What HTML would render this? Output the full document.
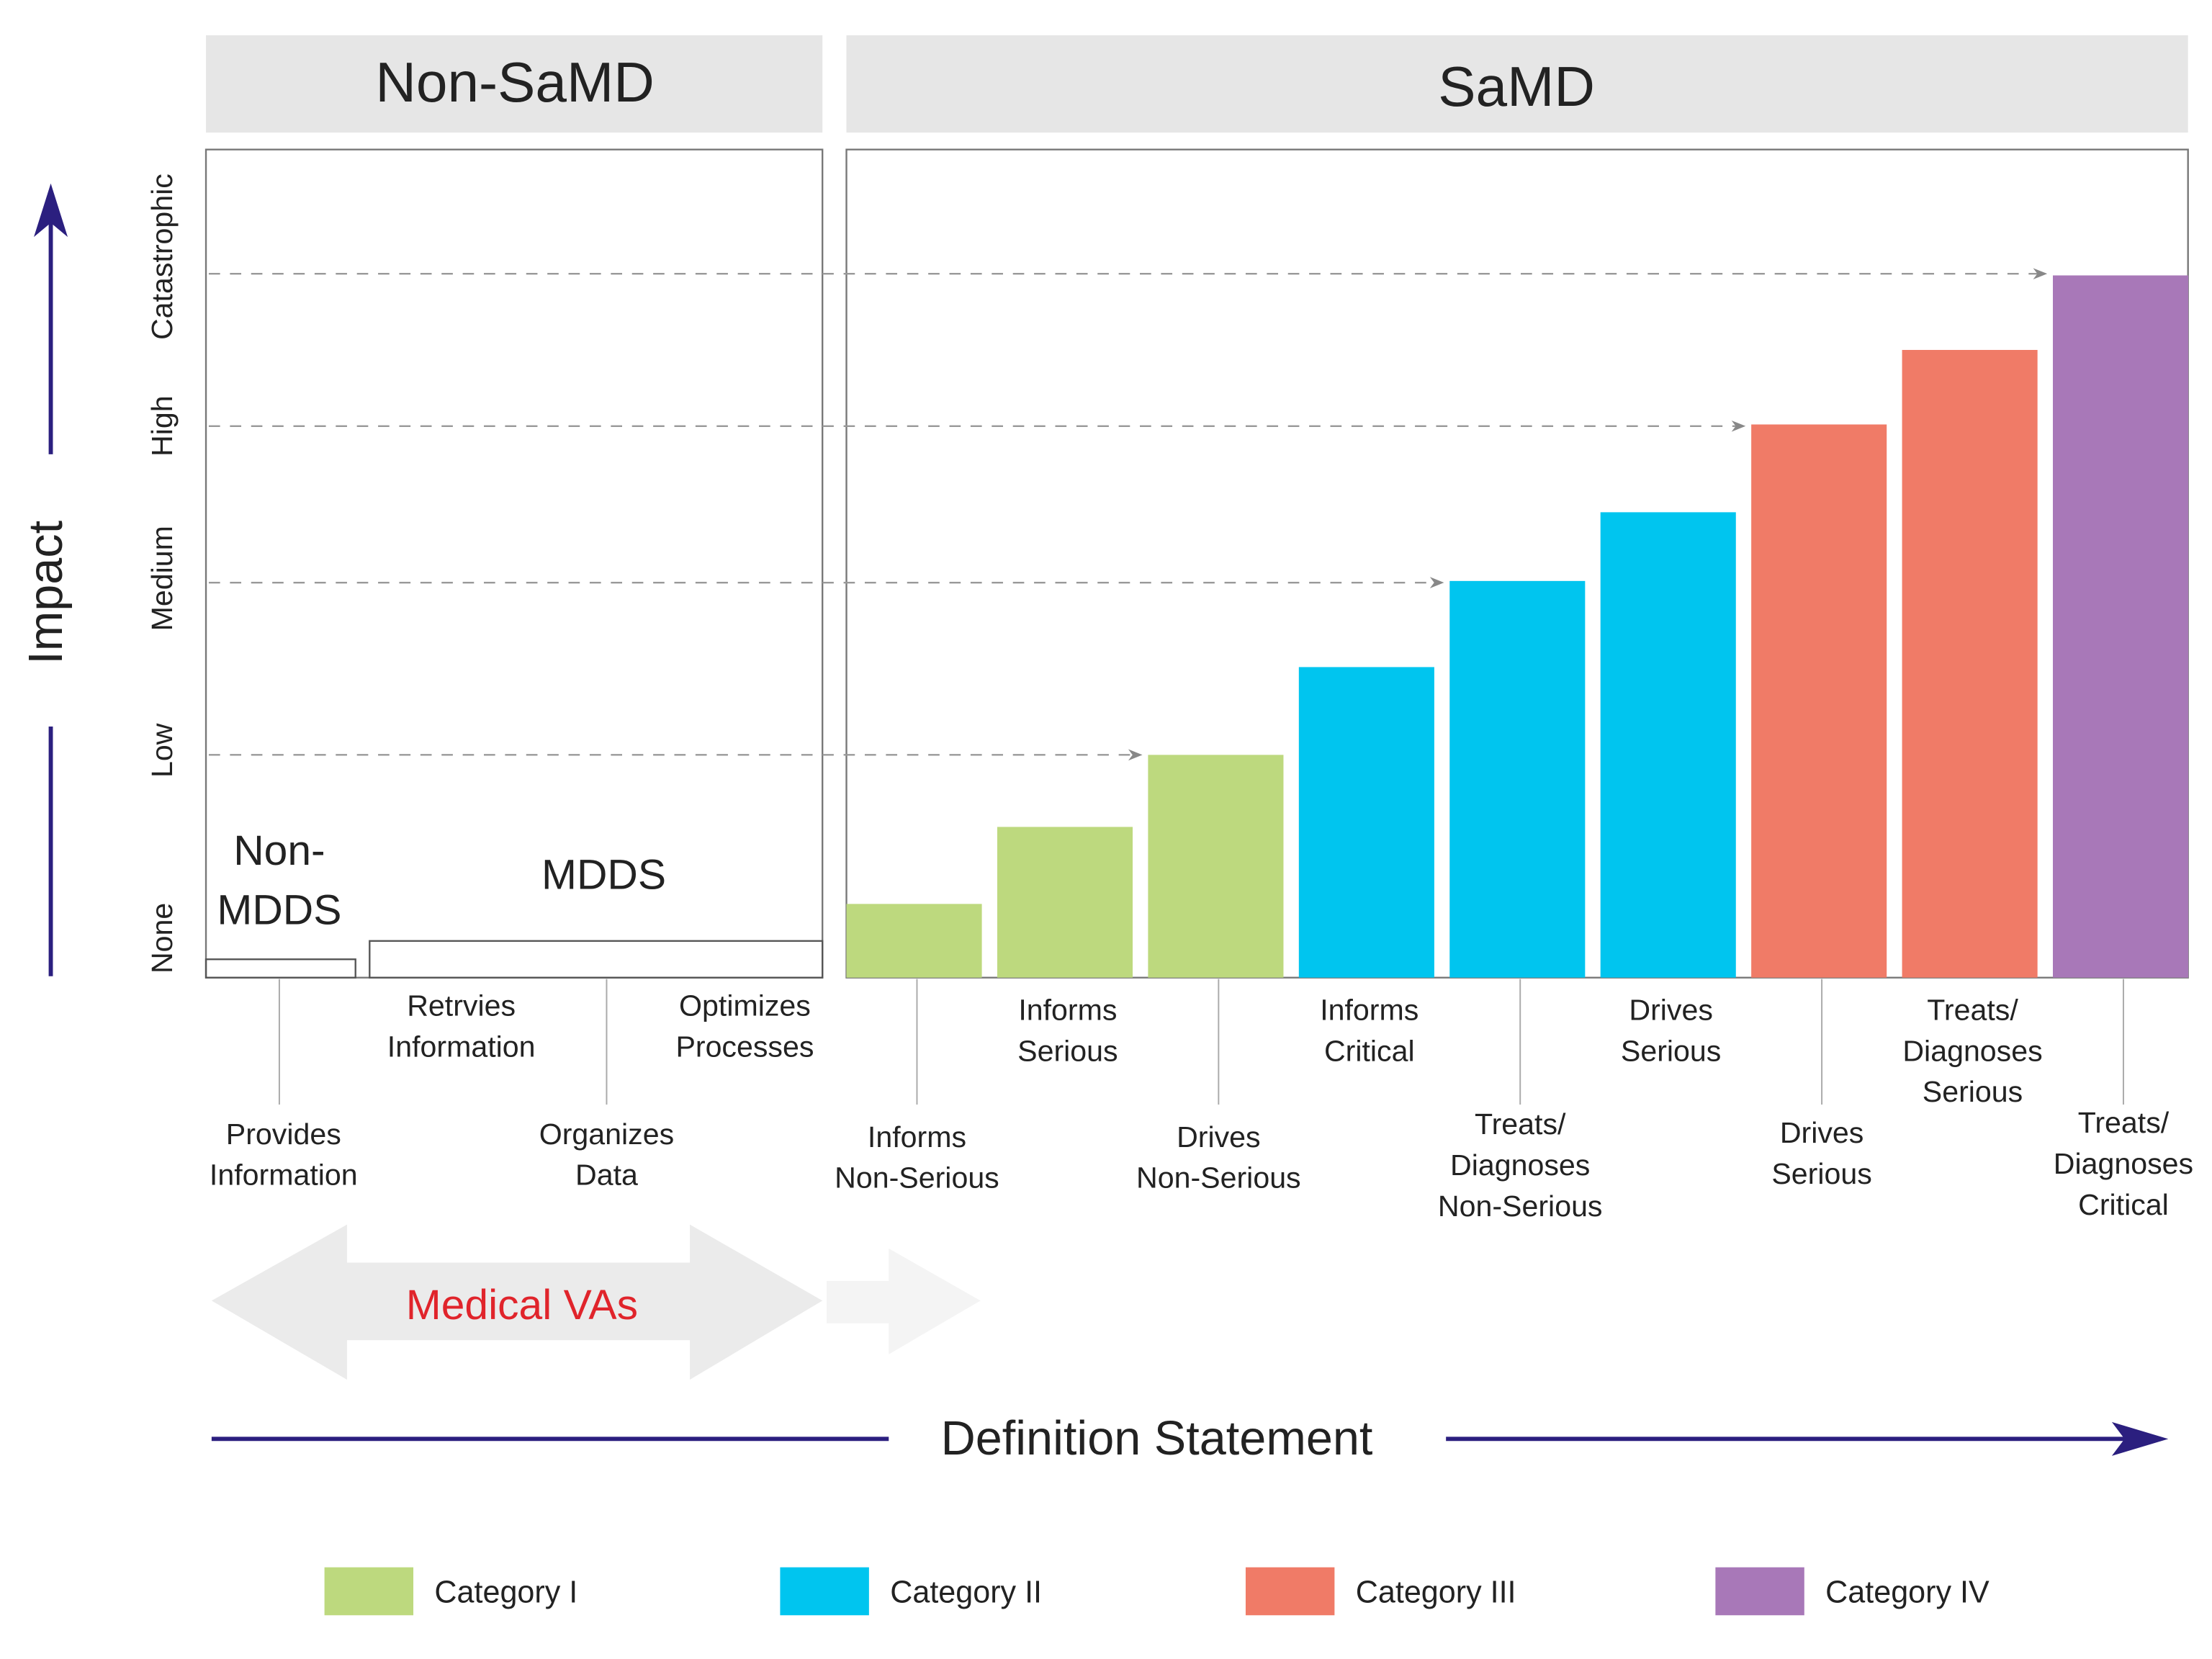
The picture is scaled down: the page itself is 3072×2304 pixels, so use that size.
<!DOCTYPE html>
<html><head><meta charset="utf-8"><style>
html,body{margin:0;padding:0;background:#fff;}
svg{display:block;font-family:"Liberation Sans",sans-serif;}
</style></head><body>
<svg id="chart" width="3072" height="2304" viewBox="0 0 1568 1176" xmlns="http://www.w3.org/2000/svg">
<rect x="0" y="0" width="1568" height="1176" fill="#fff"/>
<g>
<rect x="146" y="25" width="437" height="69" fill="#e6e6e6"/>
<text x="365" y="72" font-size="40" text-anchor="middle" fill="#222">Non-SaMD</text></g>
<g>
<rect x="600" y="25" width="951" height="69" fill="#e6e6e6"/>
<text x="1075" y="75" font-size="40" text-anchor="middle" fill="#222">SaMD</text></g>
<rect x="146" y="106" width="437" height="587" fill="none" stroke="#777" stroke-width="1.2"/>
<rect x="600" y="106" width="951" height="587" fill="none" stroke="#777" stroke-width="1.2"/>
<g id="grid"></g>
<g id="bars"></g>
<g id="ylabels"></g>
<g>
<rect x="146" y="680" width="106" height="13" fill="none" stroke="#555" stroke-width="1.2"/>
<text x="198" y="613" font-size="30" text-anchor="middle" fill="#222">Non-</text>
<text x="198" y="655" font-size="30" text-anchor="middle" fill="#222">MDDS</text></g>
<g>
<rect x="262" y="667" width="321" height="26" fill="none" stroke="#555" stroke-width="1.2"/>
<text x="428" y="630" font-size="30" text-anchor="middle" fill="#222">MDDS</text></g>
<g id="xlabels" font-size="21" fill="#222" text-anchor="middle"></g>
<g stroke="#2b1f7f" stroke-width="3" fill="#2b1f7f">
<line x1="36" y1="692" x2="36" y2="515"/>
<line x1="36" y1="322" x2="36" y2="155"/>
<polygon points="36,130 24,168 36,158 48,168" stroke="none"/>
<text x="44" y="420" font-size="34" text-anchor="middle" stroke="none" fill="#222" transform="rotate(-90 44 420)">Impact</text></g>
<g>
<polygon points="150,922 246,868 246,895 489,895 489,868 583,922 489,978 489,950 246,950 246,978" fill="#ebebeb"/>
<polygon points="586,908 630,908 630,885 695,922 630,960 630,938 586,938" fill="#f4f4f4"/>
<text x="370" y="935" font-size="30" text-anchor="middle" fill="#e0242b">Medical VAs</text></g>
<g>
<line x1="150" y1="1020" x2="630" y2="1020" stroke="#2b1f7f" stroke-width="3"/>
<line x1="1025" y1="1020" x2="1510" y2="1020" stroke="#2b1f7f" stroke-width="3"/>
<polygon points="1537,1020 1497,1008 1506,1020 1497,1032" fill="#2b1f7f"/>
<text x="820" y="1031" font-size="34" text-anchor="middle" fill="#222">Definition Statement</text></g>
<g id="legend" font-size="22" fill="#222"></g>
</svg>
<script>
const NS="http://www.w3.org/2000/svg";
const categories=["Informs Non-Serious","Informs Serious","Drives Non-Serious","Informs Critical","Treats/Diagnoses Non-Serious","Drives Serious","Drives Serious","Treats/Diagnoses Serious","Treats/Diagnoses Critical"];
const values=[8.9,18.2,26.9,37.5,47.9,56.2,66.8,75.8,84.8];
const seriesCategory=[0,0,0,1,1,1,2,2,3];
const categoryNames=["Category I","Category II","Category III","Category IV"];
const categoryColors=["#bdd97e","#00c5ef","#f07b67","#a878b8"];
const impactLevels=["None","Low","Medium","High","Catastrophic"];
const impactValues=[0,26.9,47.7,66.6,85.0];
const arrowBarIndex=[null,2,4,6,8];
const yAx=v=>693-v/100*587;
const xAx=i=>600+i*106.9;
const bw=96;
function mk(tag,attrs,parent){const e=document.createElementNS(NS,tag);for(const k in attrs)e.setAttribute(k,attrs[k]);parent.appendChild(e);return e;}
const grid=document.getElementById('grid');
for(let l=1;l<impactLevels.length;l++){
 const y=yAx(impactValues[l]);const xe=xAx(arrowBarIndex[l])-4;
 const ln=mk('line',{x1:148,y1:y,x2:xe-6,y2:y,stroke:"#999","stroke-width":1.2,"stroke-dasharray":"8 7"},grid);
 
 
 const ah=mk('polygon',{points:`${xe},${y} ${xe-10},${y-4} ${xe-7},${y} ${xe-10},${y+4}`,fill:"#888"},grid);
 
 
}
const yl=document.getElementById('ylabels');
const labelY=[665,532,410,302,182];
impactLevels.forEach((t,i)=>{
 const tx=mk('text',{x:122,y:labelY[i],"font-size":21,"text-anchor":"middle",fill:"#222",transform:`rotate(-90 122 ${labelY[i]})`},yl);
 tx.textContent=t;
 
 
});
const bars=document.getElementById('bars');
values.forEach((v,i)=>{
 const r=mk('rect',{x:xAx(i),y:yAx(v),width:bw,height:693-yAx(v),fill:categoryColors[seriesCategory[i]]},bars);
 
 
});
const xl=document.getElementById('xlabels');
function label(lines,x,y0,tick){
 if(tick){const t=mk('line',{x1:x,y1:694,x2:x,y2:783,stroke:"#aaa","stroke-width":1},xl);
  
  }
 lines.forEach((s,k)=>{const t=mk('text',{x:x,y:y0+k*29},xl);t.textContent=s;
  
  });
}
label(["Provides","Information"],201,811,false);mk('line',{x1:198,y1:694,x2:198,y2:783,stroke:"#aaa"},xl);
label(["Retrvies","Information"],327,720,false);
label(["Organizes","Data"],430,811,true);
label(["Optimizes","Processes"],528,720,false);
const labs=[[["Informs","Non-Serious"],813,true],[["Informs","Serious"],723,false],[["Drives","Non-Serious"],813,true],[["Informs","Critical"],723,false],[["Treats/","Diagnoses","Non-Serious"],804,true],[["Drives","Serious"],723,false],[["Drives","Serious"],810,true],[["Treats/","Diagnoses","Serious"],723,false],[["Treats/","Diagnoses","Critical"],803,true]];
labs.forEach((l,i)=>label(l[0],xAx(i)+bw/2+2,l[1],l[2]));
const lg=document.getElementById('legend');
const lx=[230,553,883,1216];
categoryNames.forEach((n,i)=>{
 const r=mk('rect',{x:lx[i],y:1111,width:63,height:34,fill:categoryColors[i]},lg);
 
 
 const t=mk('text',{x:lx[i]+78,y:1136},lg);t.textContent=n;
 
 
});
</script>
</body></html>
